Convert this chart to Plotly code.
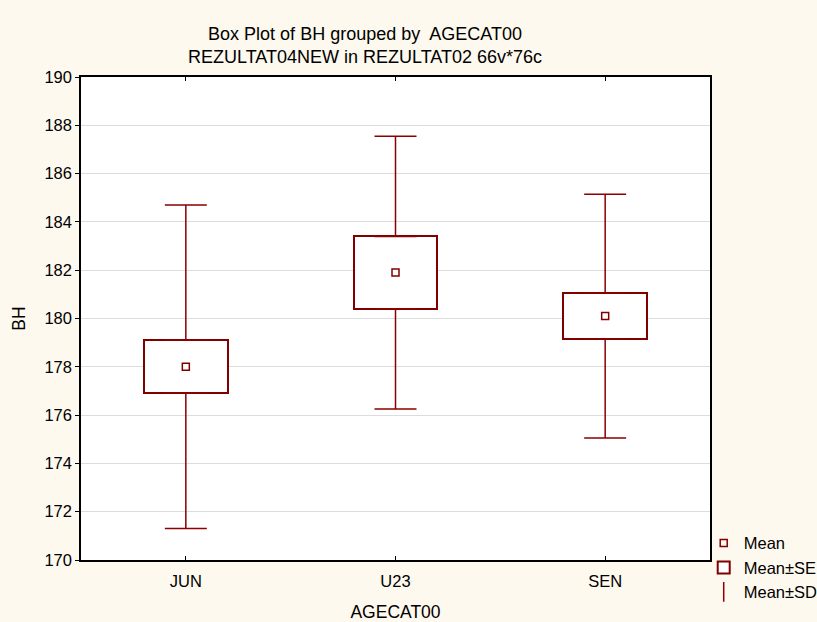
import numpy as np
import plotly.graph_objects as go

# Group summaries of BH by age category
categories = ["JUN", "U23", "SEN"]
means = [178.0, 181.9, 180.1]
se_vals = [1.1, 1.5, 0.95]
sd_vals = [6.7, 5.65, 5.05]
y_ticks = [170, 172, 174, 176, 178, 180, 182, 184, 186, 188, 190]

DARK_RED = "#800000"
WHISKER_RED = "#8b0000"
FONT = "Liberation Sans, Arial, sans-serif"

m = np.array(means)
se = np.array(se_vals)
sd = np.array(sd_vals)

fig = go.Figure()

# Mean ± SE boxes
fig.add_trace(go.Bar(
    x=categories, y=2 * se, base=m - se, width=0.4,
    marker=dict(color="white", line=dict(color=DARK_RED, width=2)),
    name="Mean±SE", legendrank=2, hoverinfo="skip",
))

# Mean ± SD whiskers, drawn outward from the box edges
fig.add_trace(go.Scatter(
    x=categories, y=m + se, mode="markers",
    marker=dict(size=1, color="rgba(0,0,0,0)"),
    error_y=dict(type="data", symmetric=False, array=sd - se,
                 arrayminus=np.zeros(len(categories)),
                 width=21, thickness=1.5, color=WHISKER_RED),
    showlegend=False, hoverinfo="skip",
))
fig.add_trace(go.Scatter(
    x=categories, y=m - se, mode="markers",
    marker=dict(size=1, color="rgba(0,0,0,0)"),
    error_y=dict(type="data", symmetric=False,
                 array=np.zeros(len(categories)), arrayminus=sd - se,
                 width=21, thickness=1.5, color=WHISKER_RED),
    showlegend=False, hoverinfo="skip",
))

# Mean markers
fig.add_trace(go.Scatter(
    x=categories, y=m, mode="markers",
    marker=dict(symbol="square-open", size=7, color=DARK_RED,
                line=dict(width=1.5, color=DARK_RED)),
    name="Mean", legendrank=1,
))

# Legend entry for the SD whiskers
fig.add_trace(go.Scatter(
    x=[None], y=[None], mode="markers",
    marker=dict(symbol="line-ns-open", size=14, color=WHISKER_RED,
                line=dict(width=1.5, color=WHISKER_RED)),
    name="Mean±SD", legendrank=3,
))

fig.update_layout(
    width=817, height=622,
    margin=dict(l=81, r=107, t=77, b=62, autoexpand=False),
    paper_bgcolor="#fef9ee",
    plot_bgcolor="white",
    font=dict(family=FONT, size=16.5, color="black"),
    title=dict(
        text="Box Plot of BH grouped by\u00a0 AGECAT00<br>REZULTAT04NEW in REZULTAT02 66v*76c",
        x=365 / 817, xref="container", xanchor="center",
        y=1 - 40 / 622, yref="container", yanchor="middle",
        font=dict(family=FONT, size=18, color="black"),
    ),
    showlegend=True,
    legend=dict(
        x=0.99, xanchor="left", y=0.071, yanchor="top",
        bgcolor="rgba(0,0,0,0)", font=dict(family=FONT, size=16.5),
        tracegroupgap=0, itemclick=False,
    ),
    bargap=0,
)

fig.update_xaxes(
    type="category", range=[-0.5, 2.5],
    showline=True, linecolor="black", linewidth=1.5, mirror="ticks",
    ticks="inside", ticklen=4, tickcolor="black", ticklabelstandoff=5,
    showgrid=False, zeroline=False,
    title=dict(text="AGECAT00", standoff=23, font=dict(size=17.5)),
    automargin=False,
)
fig.update_yaxes(
    range=[170, 190], tickvals=y_ticks,
    showline=True, linecolor="black", linewidth=1.5, mirror=True,
    ticks="outside", ticklen=4, tickcolor="black",
    showgrid=True, gridcolor="#dcdcdc", gridwidth=1, zeroline=False,
    title=dict(text="BH", standoff=14, font=dict(size=17.5)),
    automargin=False,
)

fig.write_html("out.html")
